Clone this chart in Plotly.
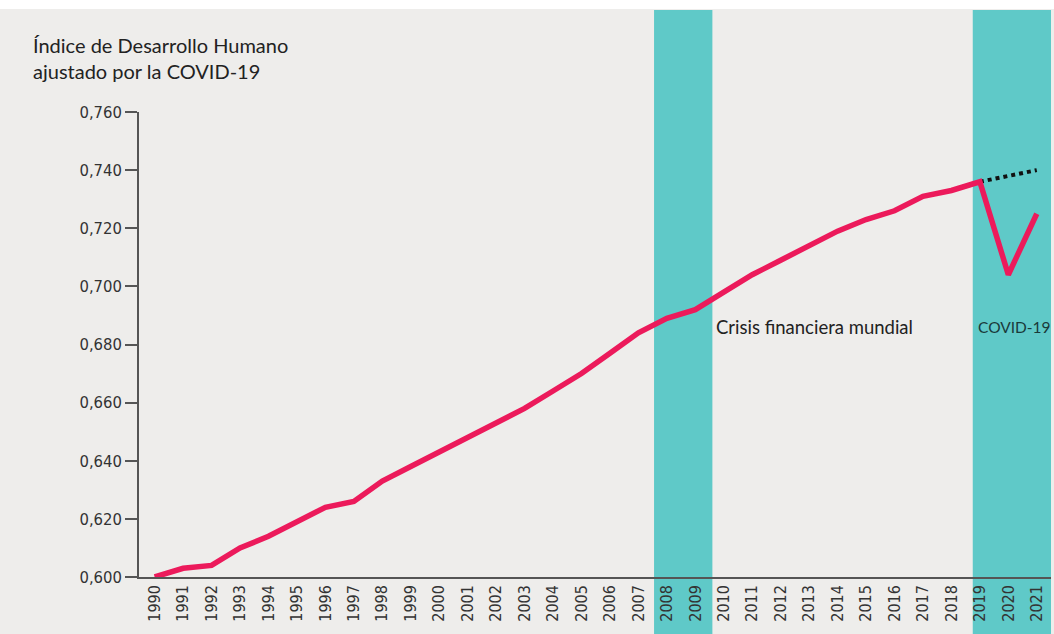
import plotly.graph_objects as go

years = list(range(1990, 2022))
hdi = [0.600, 0.603, 0.604, 0.610, 0.614, 0.619, 0.624, 0.626, 0.633, 0.638,
       0.643, 0.648, 0.653, 0.658, 0.664, 0.670, 0.677, 0.684, 0.689, 0.692,
       0.698, 0.704, 0.709, 0.714, 0.719, 0.723, 0.726, 0.731, 0.733, 0.736,
       0.704, 0.725]
trend_years = [2019, 2021]
trend_vals = [0.736, 0.740]
y_ticks = [0.600, 0.620, 0.640, 0.660, 0.680, 0.700, 0.720, 0.740, 0.760]
y_tick_labels = ["0,600", "0,620", "0,640", "0,660", "0,680", "0,700", "0,720", "0,740", "0,760"]
bands = [(2007.55, 2009.6), (2018.75, 2022.0)]

W, H = 1054, 634
L, R, T, B = 139, 3, 112, 57
ph = H - T - B

def py(pix):
    return (H - B - pix) / ph

BG = "#eeedeb"
TEAL = "#5fc9c8"
PINK = "#ec1a5b"
NARROW = "Liberation Sans Narrow, DejaVu Sans Condensed, Roboto, sans-serif"
TITLEF = "Lato, Noto Sans, sans-serif"

fig = go.Figure()
fig.add_trace(go.Scatter(x=trend_years, y=trend_vals, mode="lines",
                         line=dict(color="#111111", width=4, dash="dot"),
                         hoverinfo="skip", showlegend=False))
fig.add_trace(go.Scatter(x=years, y=hdi, mode="lines",
                         line=dict(color=PINK, width=5.5),
                         showlegend=False, cliponaxis=False))

shapes = [dict(type="rect", xref="paper", yref="paper", x0=-0.2, x1=1.05,
               y0=py(9), y1=py(-5), fillcolor="white", line_width=0, layer="below")]
for x0, x1 in bands:
    shapes.append(dict(type="rect", xref="x", yref="paper", x0=x0, x1=x1,
                       y0=py(640), y1=py(10), fillcolor=TEAL, line_width=0, layer="below"))
fig.update_layout(shapes=shapes)

fig.add_annotation(text="Índice de Desarrollo Humano<br>ajustado por la COVID-19",
                   xref="paper", yref="paper", x=(31 - L) / (W - L - R), y=py(31),
                   xanchor="left", yanchor="top", align="left", showarrow=False,
                   font=dict(family=TITLEF, size=20, color="#222222"))
fig.add_annotation(text="Crisis financiera mundial", xref="x", yref="y",
                   x=2009.65, y=0.686, xanchor="left", yanchor="middle", showarrow=False,
                   font=dict(family=TITLEF, size=18.5, color="#222222"))
fig.add_annotation(text="COVID-19", xref="x", yref="y",
                   x=2018.85, y=0.686, xanchor="left", yanchor="middle", showarrow=False,
                   font=dict(family=TITLEF, size=15.5, color="#1a3a3a"))

fig.update_layout(
    width=W, height=H,
    margin=dict(l=L, r=R, t=T, b=B),
    paper_bgcolor=BG, plot_bgcolor=BG,
    xaxis=dict(range=[1989.45, 2021.5], tickmode="array", tickvals=years,
               ticktext=[str(y) for y in years], tickangle=-90, showgrid=False,
               zeroline=False, showline=True, linecolor="#555555", linewidth=1.5,
               ticks="", tickfont=dict(family=NARROW, size=16, color="#333333")),
    yaxis=dict(range=[0.600, 0.760], tickmode="array", tickvals=y_ticks,
               ticktext=y_tick_labels, showgrid=False, zeroline=False,
               showline=True, linecolor="#555555", linewidth=1.5,
               ticks="outside", ticklen=12, tickcolor="#555555", tickwidth=1.5,
               tickfont=dict(family=NARROW, size=16.5, color="#333333")),
)

fig.write_html("out.html", config={"displayModeBar": False},
               post_script="document.body.style.margin='0';document.body.style.overflow='hidden';")
